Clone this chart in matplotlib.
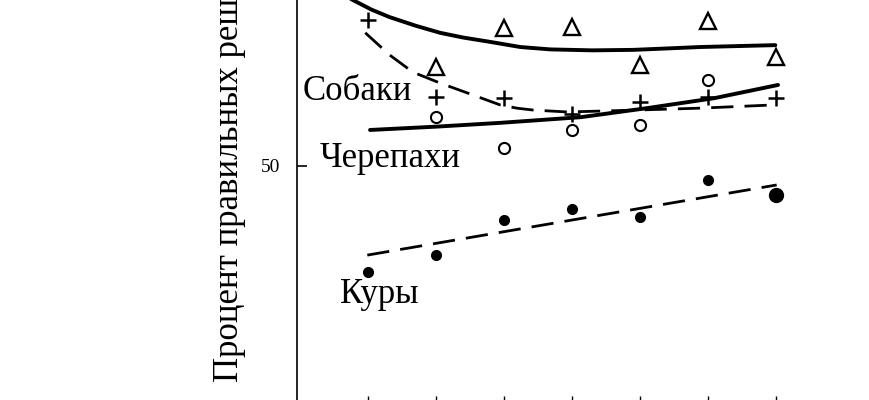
import matplotlib.pyplot as plt

plt.rcParams['font.family'] = ['Liberation Serif', 'DejaVu Serif']

# trial numbers
trials = [1, 2, 3, 4, 5, 6, 7]

# triangles (top group, unlabeled in this crop)
tri_x = [2, 3, 4, 5, 6, 7]
tri_y = [70.9, 79.1, 79.3, 71.3, 80.6, 73.0]
tri_curve_x = [0.45, 0.78, 1.05, 1.32, 1.7, 2.06, 2.4, 2.79, 3.24, 3.68, 4.3, 4.9, 5.4, 5.88, 6.99]
tri_curve_y = [87.5, 85.0, 83.0, 81.4, 79.6, 78.1, 77.1, 76.2, 75.1, 74.6, 74.4, 74.5, 74.8, 75.1, 75.5]

# dogs
dog_y = [80.8, 64.6, 64.3, 61.0, 63.5, 64.6, 64.3]
dog_curve_x = [0.96, 1.32, 1.66, 2.06, 2.54, 2.94, 3.19, 3.43, 3.93, 4.71, 5.88, 6.99]
dog_curve_y = [78.1, 73.4, 69.8, 67.5, 65.0, 62.9, 62.2, 61.8, 61.4, 61.7, 62.2, 62.9]

# turtles
turtle_x = [2, 3, 4, 5, 6]
turtle_y = [60.3, 53.8, 57.6, 58.6, 68.1]
turtle_curve_x = [1.03, 2.0, 2.94, 4.13, 5.10, 6.09, 7.03]
turtle_curve_y = [57.6, 58.3, 59.1, 60.3, 62.2, 64.3, 67.1]

# chickens
hen_y = [27.6, 31.2, 38.6, 40.9, 39.2, 47.0, 43.9]
hen_line_x = [0.99, 7.01]
hen_line_y = [31.2, 46.0]

fig = plt.figure(figsize=(8.7, 4.0), dpi=100)
ax = fig.add_axes([297 / 870, -3 / 400, 581 / 870, 426.6 / 400])
ax.set_xlim(-0.044, 8.5)
ax.set_ylim(0, 90)

k = 'black'
ax.plot(tri_curve_x, tri_curve_y, color=k, lw=2.8, solid_capstyle='round')
ax.plot(tri_x, tri_y, ls='none', marker='^', ms=12, mfc='none', mec=k, mew=1.7)

ax.plot(dog_curve_x, dog_curve_y, color=k, lw=2.0, dashes=(8, 4))
ax.plot(trials, dog_y, ls='none', marker='+', ms=11, mec=k, mew=1.8)

ax.plot(turtle_curve_x, turtle_curve_y, color=k, lw=2.8, solid_capstyle='round')
ax.plot(turtle_x, turtle_y, ls='none', marker='o', ms=8, mfc='white', mec=k, mew=1.5)

ax.plot(hen_line_x, hen_line_y, color=k, lw=2.0, dashes=(8, 4))
ax.plot(trials[:-1], hen_y[:-1], ls='none', marker='o', ms=7, color=k)
ax.plot(trials[-1:], hen_y[-1:], ls='none', marker='o', ms=10, color=k)

fs = 25
ax.text(0.044, 63.9, 'Собаки', fontsize=fs, va='baseline', ha='left')
ax.text(0.29, 49.8, 'Черепахи', fontsize=fs, va='baseline', ha='left')
ax.text(0.59, 21.1, 'Куры', fontsize=fs, va='baseline', ha='left')

fig.text(238 / 870, 18 / 400, 'Процент правильных решений', fontsize=fs,
         rotation=90, rotation_mode='anchor', ha='left', va='baseline')

for s in ['top', 'right', 'bottom']:
    ax.spines[s].set_visible(False)
ax.spines['left'].set_linewidth(1.2)

ax.set_yticks([50])
ax.set_yticklabels(['50'], fontsize=14)
ax.tick_params(axis='y', direction='in', length=7.5, width=1.2, pad=12)
ax.set_xticks(trials)
ax.tick_params(axis='x', direction='in', length=5, width=1.0, labelbottom=False)

fig.savefig('out.png', dpi=100, facecolor='white')
